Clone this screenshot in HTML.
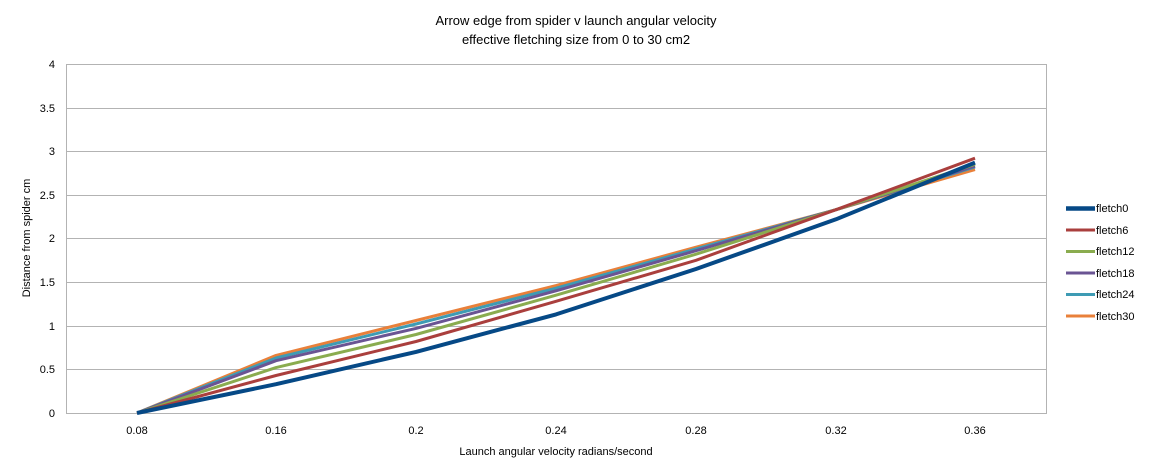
<!DOCTYPE html>
<html><head><meta charset="utf-8"><style>body{margin:0;background:#fff}svg{display:block;font-family:"Liberation Sans",Arial,sans-serif}</style></head>
<body>
<svg width="1153" height="475" viewBox="0 0 1153 475">
<rect width="1153" height="475" fill="#fff"/>
<text x="576" y="25" font-size="13" text-anchor="middle" fill="#000">Arrow  edge from spider  v launch angular velocity</text>
<text x="576" y="44" font-size="13" text-anchor="middle" fill="#000">effective fletching size from 0 to 30 cm2</text>
<g stroke="#b3b3b3" stroke-width="1">
<line x1="66" y1="64.5" x2="1047" y2="64.5"/>
<line x1="66" y1="108.5" x2="1047" y2="108.5"/>
<line x1="66" y1="151.5" x2="1047" y2="151.5"/>
<line x1="66" y1="195.5" x2="1047" y2="195.5"/>
<line x1="66" y1="238.5" x2="1047" y2="238.5"/>
<line x1="66" y1="282.5" x2="1047" y2="282.5"/>
<line x1="66" y1="326.5" x2="1047" y2="326.5"/>
<line x1="66" y1="369.5" x2="1047" y2="369.5"/>
<line x1="66" y1="413.5" x2="1047" y2="413.5"/>
<line x1="66.5" y1="64" x2="66.5" y2="413"/>
<line x1="1046.5" y1="64" x2="1046.5" y2="413"/>
</g>
<g font-size="11" fill="#000" text-anchor="end">
<text x="55" y="68">4</text><text x="55" y="112">3.5</text><text x="55" y="155">3</text>
<text x="55" y="199">2.5</text><text x="55" y="242">2</text><text x="55" y="286">1.5</text>
<text x="55" y="330">1</text><text x="55" y="373">0.5</text><text x="55" y="417">0</text>
</g>
<g font-size="11" fill="#000" text-anchor="middle">
<text x="137" y="434">0.08</text><text x="276" y="434">0.16</text><text x="416" y="434">0.2</text>
<text x="556" y="434">0.24</text><text x="696" y="434">0.28</text><text x="836" y="434">0.32</text>
<text x="975" y="434">0.36</text>
<text x="556" y="455">Launch angular  velocity radians/second</text>
</g>
<text transform="translate(30,238) rotate(-90)" font-size="11" text-anchor="middle">Distance from spider cm</text>
<g fill="none" stroke-width="3" stroke-linejoin="round">
<polyline stroke="#e9803a" points="137,413 276,355.4 416,320.5 556,285.6 696,247.2 836,209.7 975,169.6"/>
<polyline stroke="#3e9bb4" points="137,413 276,358 416,324 556,288.2 696,249 836,209.7 975,166.9"/>
<polyline stroke="#6a5493" points="137,413 276,360.7 416,328.4 556,290.8 696,250.7 836,209.7 975,166.1"/>
<polyline stroke="#8aac4f" points="137,413 276,367.6 416,334.5 556,295.2 696,254.2 836,209.7 975,164.3"/>
<polyline stroke="#aa3f3d" points="137,413 276,375.5 416,341.5 556,301.3 696,260.3 836,209.7 975,158.2"/>
<polyline stroke="#064986" stroke-width="4" points="137,413 276,384.2 416,351.9 556,314.4 696,269 836,219.3 975,162.6"/>
</g>
<g stroke-width="3">
<line x1="1066" y1="208.5" x2="1095" y2="208.5" stroke="#064986" stroke-width="4.5"/>
<line x1="1066" y1="230" x2="1095" y2="230" stroke="#aa3f3d"/>
<line x1="1066" y1="251.5" x2="1095" y2="251.5" stroke="#8aac4f"/>
<line x1="1066" y1="273" x2="1095" y2="273" stroke="#6a5493"/>
<line x1="1066" y1="294.5" x2="1095" y2="294.5" stroke="#3e9bb4"/>
<line x1="1066" y1="316" x2="1095" y2="316" stroke="#e9803a"/>
</g>
<g font-size="11" fill="#000">
<text x="1096" y="212">fletch0</text><text x="1096" y="234">fletch6</text>
<text x="1096" y="255">fletch12</text><text x="1096" y="277">fletch18</text>
<text x="1096" y="298">fletch24</text><text x="1096" y="320">fletch30</text>
</g>
</svg>
</body></html>
